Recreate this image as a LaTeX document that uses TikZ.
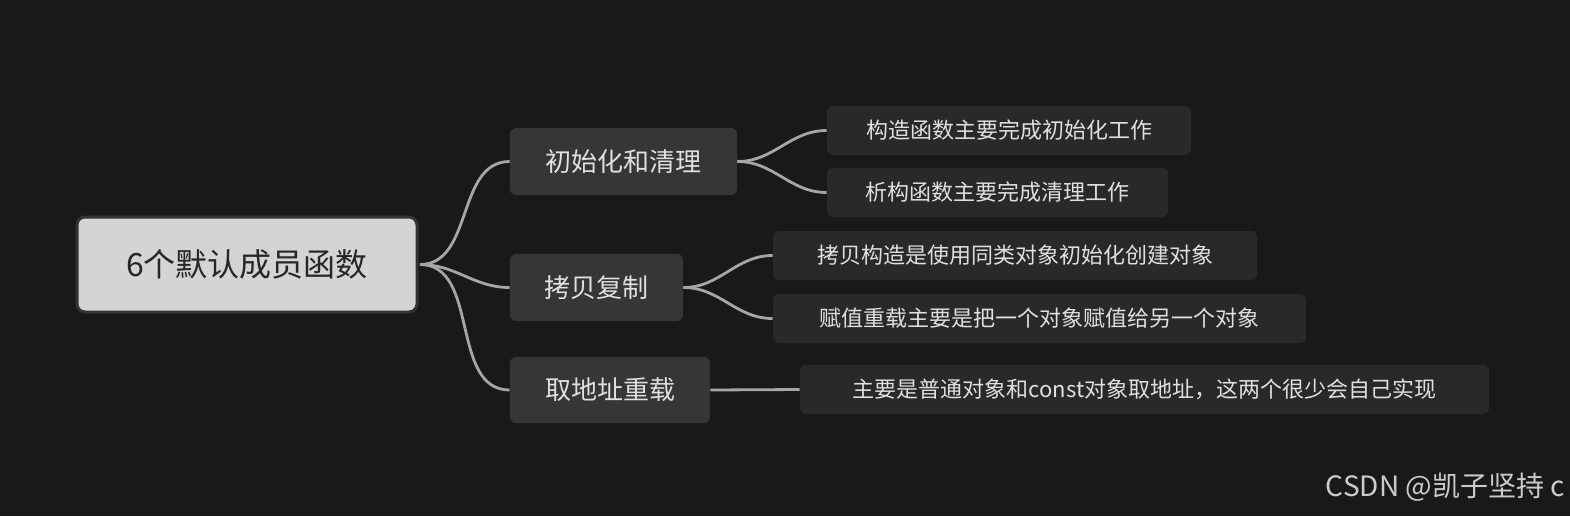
\documentclass[tikz,border=0pt]{standalone}
\usepackage{fontspec}
\setmainfont{Noto Sans CJK SC}
\begin{document}
\begin{tikzpicture}[x=0.5pt,y=-0.5pt,
  root/.style={draw=black!80,line width=1.5pt,fill=black!17,rounded corners=4pt,text=black!85,font=\fontsize{16}{18}\selectfont,inner sep=0pt},
  mid/.style={fill=black!79,rounded corners=3pt,text=black!12,font=\fontsize{13}{15}\selectfont,inner sep=0pt},
  leaf/.style={fill=black!84,rounded corners=3pt,text=black!12,font=\fontsize{11}{13}\selectfont,inner sep=0pt},
  link/.style={draw=black!35,line width=1.4pt}]
\fill[black!90] (0,0) rectangle (1570,516);
\node[root,minimum width=170pt,minimum height=47.5pt] (r) at (247,264.5) {6个默认成员函数};
\node[mid,minimum width=113.5pt,minimum height=33.5pt] (a) at (623.5,161.5) {初始化和清理};
\node[mid,minimum width=86.5pt,minimum height=33.5pt] (b) at (596.5,287.5) {拷贝复制};
\node[mid,minimum width=100pt,minimum height=33pt] (c) at (610,390) {取地址重载};
\node[leaf,minimum width=182pt,minimum height=24.5pt] (a1) at (1009,130.5) {构造函数主要完成初始化工作};
\node[leaf,minimum width=170.5pt,minimum height=24.5pt] (a2) at (997.5,192.5) {析构函数主要完成清理工作};
\node[leaf,minimum width=242pt,minimum height=24.5pt] (b1) at (1015,255.5) {拷贝构造是使用同类对象初始化创建对象};
\node[leaf,minimum width=266.5pt,minimum height=24.5pt] (b2) at (1039.5,318.5) {赋值重载主要是把一个对象赋值给另一个对象};
\node[leaf,minimum width=344.5pt,minimum height=24.5pt] (c1) at (1144.5,389.5) {主要是普通对象和const对象取地址，这两个很少会自己实现};
\coordinate (rs) at (420,264.5);
\foreach \t in {a,b,c} \draw[link] (rs) to[out=0,in=180] (\t.west);
\draw[link] (a.east) to[out=0,in=180] (a1.west);
\draw[link] (a.east) to[out=0,in=180] (a2.west);
\draw[link] (b.east) to[out=0,in=180] (b1.west);
\draw[link] (b.east) to[out=0,in=180] (b2.west);
\draw[link] (c.east) -- (c1.west);
\node[anchor=east,text=black!20,font=\fontsize{14}{16}\selectfont,inner sep=0pt] (w) at (1565,487) {CSDN @凯子坚持 c};
\end{tikzpicture}
\end{document}
